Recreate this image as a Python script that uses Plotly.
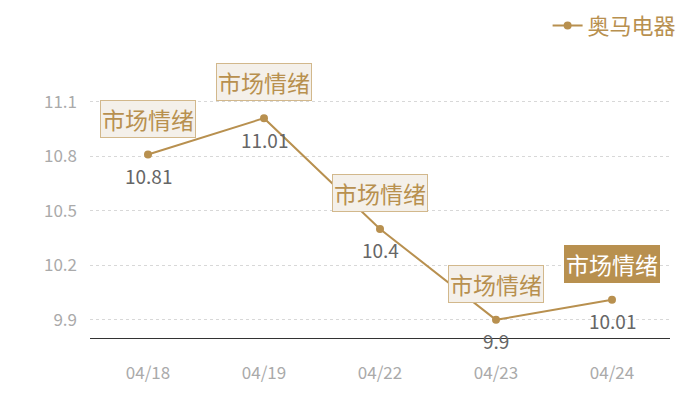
import plotly.graph_objects as go

dates = ["04/18", "04/19", "04/22", "04/23", "04/24"]
prices = [10.81, 11.01, 10.4, 9.9, 10.01]
note_text = "市场情绪"
series_name = "奥马电器"
y_ticks = [9.9, 10.2, 10.5, 10.8, 11.1]

gold = "#b8904f"
font_cn = "Noto Sans CJK SC"

fig = go.Figure()
fig.add_trace(go.Scatter(
    x=dates, y=prices, name=series_name,
    mode="lines+markers",
    line=dict(color=gold, width=2),
    marker=dict(color=gold, size=8),
    cliponaxis=False,
))

for i, (d, v) in enumerate(zip(dates, prices)):
    last = i == len(dates) - 1
    # value label under the point
    fig.add_annotation(
        x=d, y=v, text=str(v), showarrow=False, yshift=-21,
        font=dict(size=19, color="#666666", family=font_cn),
    )
    # boxed note above the point, last one highlighted
    fig.add_annotation(
        x=d, y=v, text=note_text, showarrow=False, yshift=36,
        font=dict(size=23, color="#ffffff" if last else gold, family=font_cn),
        bgcolor=gold if last else "#f4f0ea",
        bordercolor=gold if last else "#d2b88c",
        borderwidth=1, borderpad=1,
    )

# top boundary line of the value axis
fig.add_shape(type="line", xref="paper", yref="y", x0=0, x1=1, y0=11.115, y1=11.115,
              line=dict(color="#d8d8d8", width=1, dash="dot"))

# page body adds 8px, so the figure is drawn 8px smaller
fig.update_layout(
    width=692, height=392,
    margin=dict(l=82, r=30, t=92, b=62, autoexpand=False),
    paper_bgcolor="white", plot_bgcolor="white",
    font=dict(family=font_cn),
    showlegend=True,
    legend=dict(orientation="h", x=1.02, xanchor="right", y=1.40, yanchor="top",
                font=dict(size=22, color=gold, family=font_cn),
                bgcolor="rgba(0,0,0,0)"),
    xaxis=dict(range=[-0.5, 4.5], showgrid=False, showline=True, linecolor="#333333",
               linewidth=1, ticks="", tickfont=dict(size=17, color="#aaaaaa"),
               ticklabelstandoff=20),
    yaxis=dict(range=[9.8, 11.11], tickvals=y_ticks, ticktext=[str(t) for t in y_ticks],
               showgrid=True, gridcolor="#d8d8d8", griddash="dot", gridwidth=1,
               zeroline=False, showline=False, ticks="",
               tickfont=dict(size=17, color="#aaaaaa"), ticklabelstandoff=12),
)

fig.write_html("out.html")
